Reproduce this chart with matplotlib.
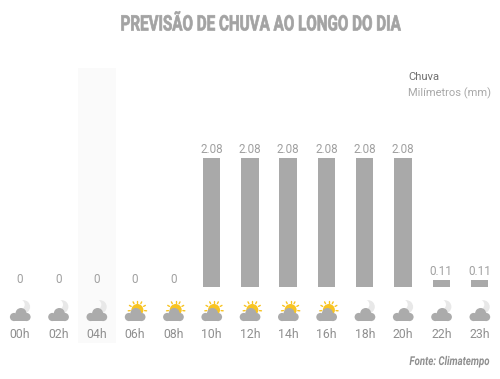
import numpy as np
import matplotlib
matplotlib.use("Agg")
import matplotlib.pyplot as plt
from matplotlib.patches import Circle, Rectangle
from matplotlib.patheffects import AbstractPathEffect
from matplotlib.transforms import Affine2D

horas = ["00h", "02h", "04h", "06h", "08h", "10h", "12h", "14h", "16h", "18h", "20h", "22h", "23h"]
chuva = [0, 0, 0, 0, 0, 2.08, 2.08, 2.08, 2.08, 2.08, 2.08, 0.11, 0.11]
rotulos = ["0", "0", "0", "0", "0", "2.08", "2.08", "2.08", "2.08", "2.08", "2.08", "0.11", "0.11"]
icones = ["lua", "lua", "lua", "sol", "sol", "sol", "sol", "sol", "sol", "lua", "lua", "lua", "lua"]

W, H = 500, 379
x0, passo = 20.0, 38.3
base_px, topo_px = 287.0, 158.0


# no condensed font installed, so squeeze the glyphs sideways around their centre
class Estreito(AbstractPathEffect):
    def __init__(self, fator, traco=0.0):
        super().__init__()
        self.fator = fator
        self.traco = traco

    def draw_path(self, renderer, gc, tpath, affine, rgbFace=None):
        ext = tpath.get_extents()
        c = (ext.x0 + ext.x1) / 2
        gc0 = renderer.new_gc()
        gc0.copy_properties(gc)
        if self.traco > 0:
            gc0.set_linewidth(self.traco)
            gc0.set_foreground(rgbFace)
        t = Affine2D().translate(-c, 0).scale(self.fator, 1).translate(c, 0) + affine
        renderer.draw_path(gc0, tpath, t, rgbFace)
        gc0.restore()


fig = plt.figure(figsize=(W / 100, H / 100), dpi=100, facecolor="white")

# overlay in pixel coords for the highlight, icons and free texts
pix = fig.add_axes([0, 0, 1, 1])
pix.set_xlim(0, W)
pix.set_ylim(H, 0)
pix.axis("off")

# chart axes, same box, index on x and mm on y
por_px = 2.08 / (base_px - topo_px)
ax = fig.add_axes([0, 0, 1, 1])
ax.patch.set_alpha(0)
ax.set_xlim(-x0 / passo, (W - x0) / passo)
ax.set_ylim(-(H - base_px) * por_px, base_px * por_px)
ax.axis("off")

pos = np.arange(len(horas))
ax.bar(pos, chuva, width=17.4 / passo, color="#a9a9a9")

for i, h in enumerate(horas):
    ax.annotate(rotulos[i], (i, chuva[i]), xytext=(0, 6.1 if chuva[i] > 0 else 5.6),
                textcoords="offset points", ha="center", va="center",
                fontsize=8.4, family="Roboto", color="#a0a0a0")
    ax.text(i, -47 * por_px, h, ha="center", va="center", fontsize=8.8, family="Roboto", color="#8f8f8f")


def nuvem(cx):
    cor = "#ababab"
    pix.add_patch(Rectangle((cx - 6, 316.5), 12.5, 4.5, fc=cor, ec="none", zorder=4))
    pix.add_patch(Circle((cx + 1, 313.5), 5.5, fc=cor, ec="none", zorder=4))
    pix.add_patch(Circle((cx - 6, 317), 4.1, fc=cor, ec="none", zorder=4))
    pix.add_patch(Circle((cx + 6.5, 317), 4.1, fc=cor, ec="none", zorder=4))


def lua(cx, fundo):
    pix.add_patch(Circle((cx + 3.5, 306.8), 6.6, fc="#e8e8e8", ec="none", zorder=2))
    pix.add_patch(Circle((cx - 0.5, 304.6), 5.2, fc=fundo, ec="none", zorder=3))


def sol(cx):
    amarelo = "#f8c422"
    sx, sy = cx + 2.5, 310.0
    pix.add_patch(Circle((sx, sy), 6.0, fc=amarelo, ec="none", zorder=2))
    for a in np.radians([-5, 30, 62, 90, 118, 150, 185]):
        pix.plot([sx + 7.2 * np.cos(a), sx + 9.2 * np.cos(a)],
                 [sy - 7.2 * np.sin(a), sy - 9.2 * np.sin(a)],
                 color=amarelo, lw=1.0, zorder=2, solid_capstyle="round")


# highlight for 04h
pix.add_patch(Rectangle((78, 68), 38, 275, fc="#fafafa", ec="none", zorder=0))

for i, tipo in enumerate(icones):
    cx = x0 + passo * i
    if tipo == "lua":
        lua(cx, "#fafafa" if horas[i] == "04h" else "white")
    else:
        sol(cx)
    nuvem(cx)

pix.text(260, 30.5, "PREVISÃO DE CHUVA AO LONGO DO DIA", ha="center", va="baseline", fontsize=15.4,
         family="Roboto", weight="bold", color="#a3a3a3", path_effects=[Estreito(0.71, 0.5)])
pix.text(408, 77.5, "Chuva", ha="left", va="center", fontsize=8.1, family="Roboto", color="#707070")
pix.text(408, 93, "Milímetros (mm)", ha="left", va="center", fontsize=8, family="Roboto", color="#a8a8a8")
pix.text(449.5, 365, "Fonte: Climatempo", ha="center", va="baseline", fontsize=8.8,
         family="Roboto", weight="bold", style="italic", color="#8f8f8f", path_effects=[Estreito(0.79)])

fig.savefig("out.png", dpi=100)
